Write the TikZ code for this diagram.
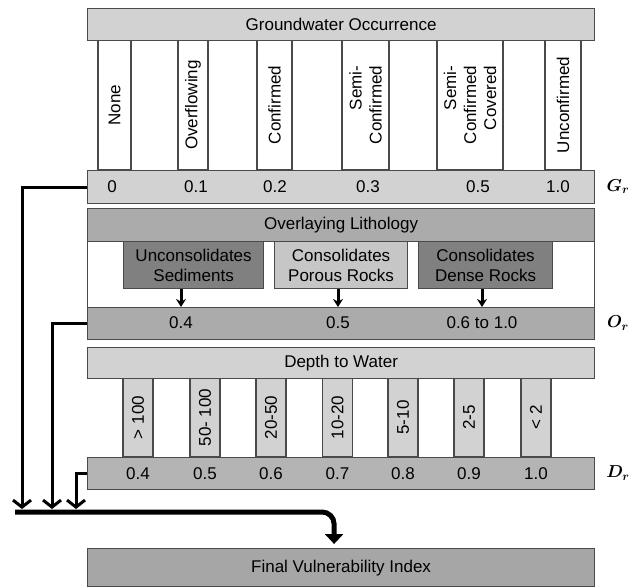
\documentclass[tikz,border=0pt]{standalone}
\usepackage{amsmath}
\usepackage{fontspec}
\setmainfont{Liberation Sans}
\usepackage{tikz}
\usetikzlibrary{positioning,arrows.meta,calc}

\definecolor{edge}{HTML}{4A4A4A}
\definecolor{lightband}{HTML}{D2D2D2}
\definecolor{midband}{HTML}{ABABAB}
\definecolor{drband}{HTML}{B4B4B4}
\definecolor{darkbox}{HTML}{808080}
\definecolor{palebox}{HTML}{C6C6C6}
\definecolor{finalband}{HTML}{A6A6A6}

\begin{document}
\begin{tikzpicture}[x=1pt, y=-1pt,
    font=\fontsize{17}{20}\selectfont,
    band/.style={draw=edge, line width=1.2pt, inner sep=0pt, anchor=north west,
      minimum width=507pt, minimum height=32pt},
    slot/.style={draw=edge, line width=1.2pt, inner sep=0pt, rotate=90, align=right},
    rockbox/.style={draw=edge, line width=1.2pt, inner sep=0pt, anchor=north west,
      minimum height=47pt, align=center},
    factor/.style={font=\fontsize{18}{20}\selectfont},
    feed/.style={line width=3pt, -{Straight Barb[length=7pt,width=18pt]}},
    litharrow/.style={line width=3pt, -{Stealth[length=8pt,width=10pt]}}]

  \fill[white] (0,0) rectangle (635,587);
  \useasboundingbox (0,0) rectangle (635,587);

  % groundwater occurrence
  \foreach \cx/\cw/\ctext [count=\i] in {114.5/33/None, 193/30/Overflowing,
      274.5/35/Confirmed, 365.5/47/{Semi-\\Confirmed},
      470/66/{Semi-\\Confirmed\\Covered}, 563/36/Unconfirmed} {
    \node[slot, fill=white, minimum width=130pt, minimum height=\cw pt] (gw\i) at (\cx,105) {\ctext};
  };
  \node[band, fill=lightband] (gwhead) at (87,8) {Groundwater Occurrence};
  \node[band, fill=lightband, minimum height=33pt] (grbar) at (87,170) {};
  \foreach \v/\vx [count=\i] in {0/112, 0.1/196, 0.2/275, 0.3/368, 0.5/478, 1.0/558} {
    \node (gv\i) at (\vx,186.5) {\v};
  };
  \node[factor] (grlab) at (618,186.5) {$\boldsymbol{G_r}$};

  % overlaying lithology
  \node[band, minimum height=131pt] (olframe) at (87,208) {};
  \node[band, fill=midband, minimum height=33pt] (olhead) at (87,208) {Overlaying Lithology};
  \node[rockbox, fill=darkbox, minimum width=140pt] (ol1) at (123,241) {Unconsolidates\\Sediments};
  \node[rockbox, fill=palebox, minimum width=133pt] (ol2) at (274,241) {Consolidates\\Porous Rocks};
  \node[rockbox, fill=darkbox, minimum width=134pt] (ol3) at (418,241) {Consolidates\\Dense Rocks};
  \node[band, fill=midband] (orbar) at (87,307) {};
  \foreach \v/\vx [count=\i] in {0.4/181, 0.5/338, 0.6 to 1.0/482} {
    \node (ov\i) at (\vx,323) {\v};
  };
  \foreach \i in {1,2,3} {
    \draw[litharrow] (ol\i.south -| ov\i) -- (ov\i |- orbar.north);
  };
  \node[factor] (orlab) at (618,323) {$\boldsymbol{O_r}$};

  % depth to water
  \foreach \cx/\ctext [count=\i] in {138/{> 100}, 205/{50- 100}, 271/20-50,
      337.5/10-20, 403/5-10, 469/2-5, 536/{< 2}} {
    \node[slot, fill=lightband, minimum width=79pt, minimum height=30pt] (dw\i) at (\cx,417.5) {\ctext};
  };
  \node[band, fill=lightband, minimum height=31pt] (dwhead) at (87,347) {Depth to Water};
  \node[band, fill=drband] (drbar) at (87,457) {};
  \foreach \v [count=\i] in {0.4, 0.5, 0.6, 0.7, 0.8, 0.9, 1.0} {
    \node (dv\i) at (dw\i |- drbar) {\v};
  };
  \node[factor] (drlab) at (618,473) {$\boldsymbol{D_r}$};

  % final index
  \node[band, fill=finalband, minimum height=38pt] (fvi) at (87,548) {Final Vulnerability Index};

  \coordinate (gdrop) at (22,509);
  \coordinate (odrop) at (52,509);
  \coordinate (ddrop) at (76,509);
  \coordinate (bus) at (15,512);
  \draw[feed] (grbar.west) -| (gdrop);
  \draw[feed] (orbar.west) -| (odrop);
  \draw[feed] (drbar.west) -| (ddrop);
  \draw[line width=5pt, rounded corners=12pt, shorten >=4pt,
    -{Triangle[length=10pt,width=18pt]}] (bus) -| ([xshift=-7pt]fvi.north);
\end{tikzpicture}
\end{document}
